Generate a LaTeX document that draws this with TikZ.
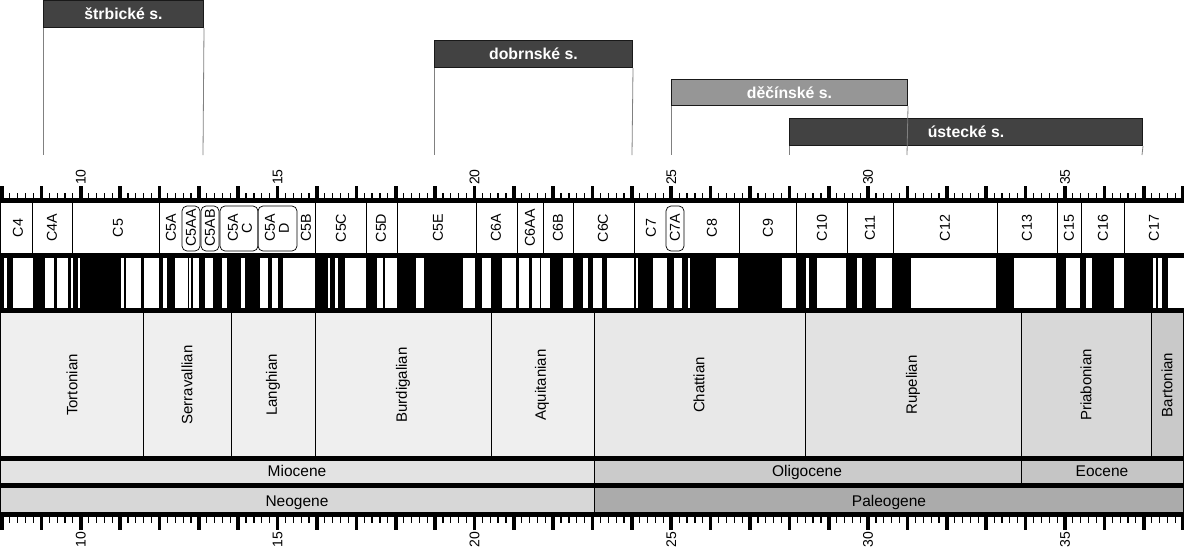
\documentclass[tikz,border=0pt]{standalone}
\usepackage{fontspec}
\setmainfont{Liberation Sans}
\definecolor{bardark}{HTML}{424242}
\definecolor{barlight}{HTML}{969696}
\definecolor{stA}{HTML}{EFEFEF}
\definecolor{stB}{HTML}{E8E8E8}
\definecolor{stC}{HTML}{E2E2E2}
\definecolor{stD}{HTML}{D8D8D8}
\definecolor{stE}{HTML}{C9C9C9}
\definecolor{epA}{HTML}{E3E3E3}
\definecolor{epB}{HTML}{CBCBCB}
\definecolor{epC}{HTML}{C5C5C5}
\definecolor{peA}{HTML}{D7D7D7}
\definecolor{peB}{HTML}{ABABAB}
\begin{document}
\begin{tikzpicture}[x=1pt,y=-1pt,
  barbox/.style={draw=black!90,line width=1pt,anchor=north west,inner sep=0pt,
    text=white,font=\bfseries\fontsize{15.8}{16}\selectfont},
  barline/.style={draw=black!50,line width=0.8pt},
  chronlbl/.style={rotate=90,inner sep=0pt,align=center,
    font=\fontsize{14.3}{14}\selectfont},
  chronbox/.style={draw=black,line width=0.7pt,rounded corners=5pt},
  bline/.style={draw=black,line width=0.8pt},
  stagelbl/.style={rotate=90,inner sep=0pt,font=\fontsize{15}{16}\selectfont},
  eplbl/.style={inner sep=0pt,anchor=base,font=\fontsize{15.5}{16}\selectfont},
  ticklbl/.style={rotate=90,inner sep=0pt,font=\fontsize{14}{14}\selectfont}
]
\useasboundingbox (0,0) rectangle (1184,555);
\fill[white] (0,0) rectangle (1184,555);

% ---------- formation bars ----------
\node[barbox,fill=bardark,minimum width=160pt,minimum height=27pt] (strb) at (43,0) {štrbické s.};
\node[barbox,fill=bardark,minimum width=198pt,minimum height=27pt] (dobr) at (434,40) {dobrnské s.};
\node[barbox,fill=barlight,minimum width=236pt,minimum height=26pt] (dec) at (671,79) {děčínské s.};
\node[barbox,fill=bardark,minimum width=353pt,minimum height=27pt] (ust) at (789,118) {ústecké s.};
\coordinate (strbL) at (43,155);
\coordinate (strbR) at (203,155);
\coordinate (dobrL) at (434,155);
\coordinate (dobrR) at (632,155);
\coordinate (decL) at (671,155);
\coordinate (decR) at (907,155);
\coordinate (ustL) at (789,155);
\coordinate (ustR) at (1142,155);
\draw[barline] (strb.south west) -- (strbL);
\draw[barline] (strb.south east) -- (strbR);
\draw[barline] (dobr.south west) -- (dobrL);
\draw[barline] (dobr.south east) -- (dobrR);
\draw[barline] (dec.south west) -- (decL);
\draw[barline] (dec.south east) -- (decR);
\draw[barline] (ust.south west) -- (ustL);
\draw[barline] (ust.south east) -- (ustR);

% ---------- top scale ----------
\fill[black] (0,198) rectangle (1184,203);
\foreach \i in {0,...,150} {
  \fill[black] ({2+7.874*\i-0.6},193) rectangle ({2+7.874*\i+0.6},198);
  \fill[black] ({2+7.874*\i-0.6},517) rectangle ({2+7.874*\i+0.6},523);
}
\foreach \i in {0,...,30} {
  \fill[black] ({2+39.37*\i-1.8},186) rectangle ({2+39.37*\i+1.8},198);
  \fill[black] ({2+39.37*\i-1.8},517) rectangle ({2+39.37*\i+1.8},530);
}
\foreach \t/\n in {10/ta,15/tb,20/tc,25/td,30/te,35/tf} {
  \node[ticklbl,anchor=west] (\n top) at ({2+39.37*(\t-8)},185) {\t};
  \node[ticklbl,anchor=east] (\n bot) at ({2+39.37*(\t-8)},532) {\t};
}

% ---------- chron row ----------
\foreach \x in {32,72,159,315,366,397,476,517,543,573,634,739,796,847,893,997,1057,1081,1124}
  \draw[bline] (\x,203) -- (\x,253);
\draw[chronbox] (182,206) rectangle (200,251);
\draw[chronbox] (201,206) rectangle (219,251);
\draw[chronbox] (220,206) rectangle (258,251);
\draw[chronbox] (258,206) rectangle (297,251);
\draw[chronbox] (666,206) rectangle (684,251);
\foreach \x/\l/\n in {18/C4/c4,52/C4A/c4a,118/C5/c5,171/C5A/c5a,191/C5AA/c5aa,210/C5AB/c5ab,
  306/C5B/c5b,341/C5C/c5c,381/C5D/c5d,438/C5E/c5e,496/C6A/c6a,530/C6AA/c6aa,558/C6B/c6b,
  603/C6C/c6c,651/C7/c7,675/C7A/c7a,712/C8/c8,768/C9/c9,822/C10/c10,870/C11/c11,945/C12/c12,
  1027/C13/c13,1069/C15/c15,1103/C16/c16,1154/C17/c17}
  \node[chronlbl] (\n) at (\x,228) {\l};
\node[chronlbl] (c5ac) at (240,228) {C5A\\C};
\node[chronlbl] (c5ad) at (277,228) {C5A\\D};

% ---------- polarity ----------
\fill[black] (0,253) rectangle (1184,313);
\foreach \a/\b in {3.8/6.9,12.6/32.5,45/53.6,57.4/67.7,70.8/72.7,77.7/79.6,121/123.6,
  126.3/140.8,143.9/159.2,163.4/166.5,175.3/188.3,189.4/190.6,192.5/199,204.7/212.8,
  222/227,241/245,259.9/267.9,272/278,283/314.6,328.4/329.9,335/338,345/365.5,377/382.7,
  384.6/396.5,416/424,463/474.5,482/491,501.7/515.5,519.3/529.3,532.3/539.6,540.8/550,
  562.6/572.5,582.5/588.2,593/602,607/633.6,635.5/638,652.9/666.9,674/682,687.7/689.6,
  716/737.7,782/796.4,806/809,817/846,857/862,876/892,911/996,1013.5/1056,1065.8/1079.8,
  1085.5/1092,1113.5/1124,1152.5/1155.5,1158/1162,1168/1184}
  \fill[white] (\a,258) rectangle (\b,308);

% ---------- stages ----------
\fill[stA] (0,313) rectangle (594,456);
\fill[stB] (594,313) rectangle (805,456);
\fill[stC] (805,313) rectangle (1021,456);
\fill[stD] (1021,313) rectangle (1151,456);
\fill[stE] (1151,313) rectangle (1184,456);
\foreach \x in {143,231,315,491,594,805,1021,1151}
  \draw[bline] (\x,313) -- (\x,456);
\node[stagelbl] (tort) at (72,385) {Tortonian};
\node[stagelbl] (serr) at (187,385) {Serravallian};
\node[stagelbl] (lang) at (273,385) {Langhian};
\node[stagelbl] (burd) at (403,385) {Burdigalian};
\node[stagelbl] (aqui) at (542,385) {Aquitanian};
\node[stagelbl] (chat) at (699,385) {Chattian};
\node[stagelbl] (rupe) at (913,385) {Rupelian};
\node[stagelbl] (pria) at (1086,385) {Priabonian};
\node[stagelbl] (bart) at (1167,385) {Bartonian};
\fill[black] (0,456) rectangle (1184,461);

% ---------- epochs ----------
\fill[epA] (0,461) rectangle (594,483);
\fill[epB] (594,461) rectangle (1021,483);
\fill[epC] (1021,461) rectangle (1184,483);
\draw[bline] (594,461) -- (594,483);
\draw[bline] (1021,461) -- (1021,483);
\node[eplbl] (mio) at (297,476.5) {Miocene};
\node[eplbl] (oli) at (807,476.5) {Oligocene};
\node[eplbl] (eoc) at (1102,476.5) {Eocene};
\fill[black] (0,483) rectangle (1184,488);

% ---------- periods ----------
\fill[peA] (0,488) rectangle (594,512);
\fill[peB] (594,488) rectangle (1184,512);
\draw[bline] (594,488) -- (594,512);
\node[eplbl] (neo) at (297,506.5) {Neogene};
\node[eplbl] (pal) at (889,506.5) {Paleogene};
\fill[black] (0,512) rectangle (1184,517);

% outer borders
\draw[bline] (0.6,313) -- (0.6,512);
\draw[bline] (1183.4,313) -- (1183.4,512);
\draw[bline] (0.6,203) -- (0.6,253);
\end{tikzpicture}
\end{document}
